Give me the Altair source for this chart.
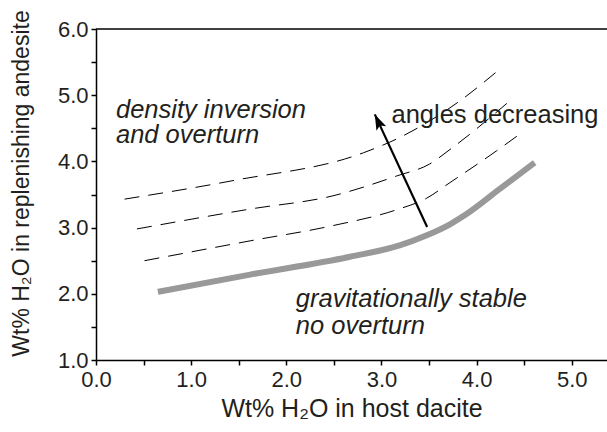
import altair as alt
import pandas as pd

# ---- data ----
stable_x = [0.65, 1.62, 2.67, 3.19, 3.47, 3.72, 3.89, 4.24, 4.61]
stable_y = [2.03, 2.29, 2.56, 2.73, 2.88, 3.05, 3.20, 3.58, 3.98]

dash1_x = [0.30, 1.44, 2.81, 3.19, 3.82, 4.24]
dash1_y = [3.43, 3.71, 4.13, 4.36, 4.91, 5.39]

dash2_x = [0.43, 1.62, 2.49, 3.16, 3.505, 3.72, 4.37]
dash2_y = [2.98, 3.28, 3.48, 3.78, 3.96, 4.18, 4.94]

dash3_x = [0.51, 1.62, 2.49, 3.16, 3.47, 3.72, 4.21, 4.47]
dash3_y = [2.50, 2.80, 3.03, 3.27, 3.44, 3.68, 4.16, 4.43]

arrow_x = [3.48, 2.93]
arrow_y = [3.01, 4.71]

italic_labels = ["density inversion", "and overturn", "gravitationally stable", "no overturn"]
italic_x = [0.21, 0.21, 2.10, 2.10]
italic_y = [4.66, 4.28, 1.80, 1.40]

plain_labels = ["angles decreasing"]
plain_x = [3.105]
plain_y = [4.585]

x_ticks = [0, 0.5, 1, 1.5, 2, 2.5, 3, 3.5, 4, 4.5, 5]
y_ticks = [1, 1.5, 2, 2.5, 3, 3.5, 4, 4.5, 5, 5.5, 6]
X_MAX = 5.37

# ---- tables ----
rows = []
for name, xs, ys in [("stable", stable_x, stable_y), ("d1", dash1_x, dash1_y),
                     ("d2", dash2_x, dash2_y), ("d3", dash3_x, dash3_y),
                     ("arrow", arrow_x, arrow_y)]:
    for i, (a, b) in enumerate(zip(xs, ys)):
        rows.append({"x": a, "y": b, "s": name, "i": i})
lines = pd.DataFrame(rows)

italic_df = pd.DataFrame({"x": italic_x, "y": italic_y, "t": italic_labels})
plain_df = pd.DataFrame({"x": plain_x, "y": plain_y, "t": plain_labels})
frame_df = pd.DataFrame({"x": [0], "x2": [X_MAX], "y": [6]})

FONT = "Liberation Sans"
TXT = "#231f20"

X = alt.X("x:Q", scale=alt.Scale(domain=[0, X_MAX], nice=False, zero=False),
          axis=alt.Axis(values=x_ticks,
                        labelExpr="datum.value % 1 == 0 ? format(datum.value, '.1f') : ''",
                        grid=False, tickSize=5, tickWidth=1.5, domainWidth=1.5,
                        domainColor="black", tickColor="black",
                        labelFontSize=22, labelColor=TXT, labelFont=FONT,
                        labelPadding=4, titleFontSize=25, titleColor=TXT,
                        titleFont=FONT, titleFontWeight="normal", titlePadding=6,
                        labelFlush=False),
          title="Wt% H₂O in host dacite")
Y = alt.Y("y:Q", scale=alt.Scale(domain=[1, 6], nice=False, zero=False),
          axis=alt.Axis(values=y_ticks,
                        labelExpr="datum.value % 1 == 0 ? format(datum.value, '.1f') : ''",
                        grid=False, tickSize=5, tickWidth=1.5, domainWidth=1.5,
                        domainColor="black", tickColor="black",
                        labelFontSize=22, labelColor=TXT, labelFont=FONT,
                        labelPadding=3, titleFontSize=23, titleColor=TXT,
                        titleFont=FONT, titleFontWeight="normal",
                        titleX=-63, titleY=154, labelFlush=False),
          title="Wt% H₂O in replenishing andesite")

base = alt.Chart(lines)

stable = base.transform_filter(alt.datum.s == "stable").mark_line(
    color="#999999", strokeWidth=6, interpolate="monotone", strokeCap="butt"
).encode(x=X, y=Y, order="i:Q")

dashed = base.transform_filter(
    (alt.datum.s == "d1") | (alt.datum.s == "d2") | (alt.datum.s == "d3")
).mark_line(
    color="black", strokeWidth=1, strokeDash=[15, 9], interpolate="monotone"
).encode(x=X, y=Y, detail="s:N", order="i:Q")

arrow = base.transform_filter(alt.datum.s == "arrow").mark_line(
    color="black", strokeWidth=2.2
).encode(x=X, y=Y, order="i:Q")

head = base.transform_filter((alt.datum.s == "arrow") & (alt.datum.i == 1)).mark_point(
    shape="M0,0 L0.55,1.6 L0,1.25 L-0.55,1.6 Z", filled=True, color="black",
    opacity=1, size=380, angle=335.3, strokeWidth=0
).encode(x=X, y=Y)

frame = alt.Chart(frame_df).mark_rule(color="black", strokeWidth=1.5).encode(
    x=X, x2="x2:Q", y=Y)

it_text = alt.Chart(italic_df).mark_text(
    align="left", baseline="alphabetic", fontSize=25.5, font=FONT,
    fontStyle="italic", color=TXT
).encode(x=X, y=Y, text="t:N")

pl_text = alt.Chart(plain_df).mark_text(
    align="left", baseline="alphabetic", fontSize=25.5, font=FONT, color=TXT
).encode(x=X, y=Y, text="t:N")

chart = alt.layer(frame, stable, dashed, arrow, head, it_text, pl_text).properties(
    width=511, height=331,
    autosize=alt.AutoSizeParams(type="none"),
    padding={"left": 96, "top": 29, "right": 0, "bottom": 72},
    background="white"
).configure_view(stroke=None)

chart.save("out.html", embed_options={"renderer": "svg", "actions": False})
